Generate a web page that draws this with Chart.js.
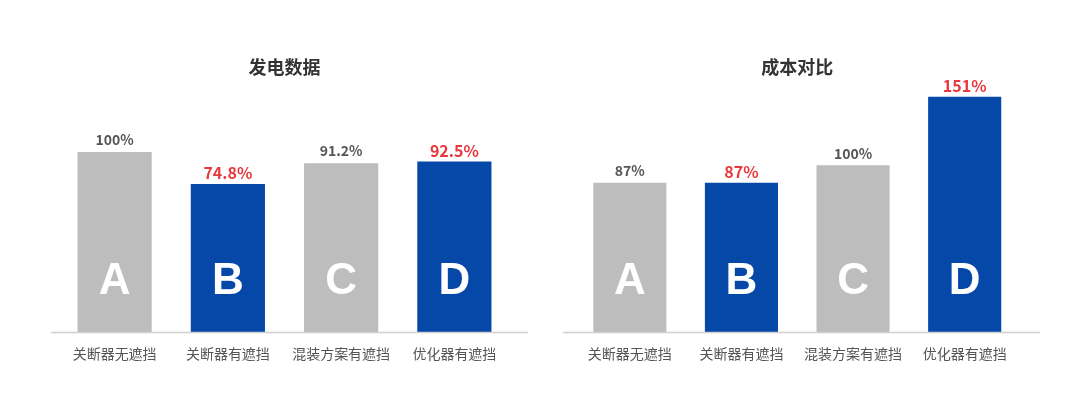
<!DOCTYPE html>
<html>
<head>
<meta charset="utf-8">
<script src="https://cdn.jsdelivr.net/npm/chart.js@4.4.1/dist/chart.umd.min.js"></script>
<style>
  html, body { margin: 0; padding: 0; background: #ffffff; }
  #wrap { position: relative; width: 1080px; height: 420px; }
  .box { position: absolute; top: 0; width: 540px; height: 420px; }
  #boxL { left: 0; }
  #boxR { left: 540px; }
</style>
</head>
<body>
<div id="wrap">
  <div class="box" id="boxL"><canvas id="cL" width="540" height="420"></canvas></div>
  <div class="box" id="boxR"><canvas id="cR" width="540" height="420"></canvas></div>
</div>
<script>
// ---- data ----
const categories = ['关断器无遮挡', '关断器有遮挡', '混装方案有遮挡', '优化器有遮挡'];
const barLetters = ['A', 'B', 'C', 'D'];
const powerTitle = '发电数据';
const powerValues = [100, 74.8, 91.2, 92.5];
const powerLabels = ['100%', '74.8%', '91.2%', '92.5%'];
const costTitle = '成本对比';
const costValues = [87, 87, 100, 151];
const costLabels = ['87%', '87%', '100%', '151%'];
const highlighted = [false, true, false, true];

// ---- styles ----
const GRAY = '#bdbdbd';
const BLUE = '#0648a8';
const RED = '#e8383d';
const TEXT = '#555555';
const CJK = '"Noto Sans CJK SC", "Noto Sans", sans-serif';

const decorPlugin = {
  id: 'decor',
  afterDatasetsDraw(chart, args, opts) {
    const ctx = chart.ctx;
    const meta = chart.getDatasetMeta(0);
    const area = chart.chartArea;
    ctx.save();
    // axis line
    ctx.strokeStyle = '#d0d0d0';
    ctx.lineWidth = 1.5;
    ctx.beginPath();
    ctx.moveTo(area.left - opts.extLeft, area.bottom + 0.5);
    ctx.lineTo(area.right + opts.extRight, area.bottom + 0.5);
    ctx.stroke();
    meta.data.forEach((bar, i) => {
      // value label
      const hi = highlighted[i];
      ctx.fillStyle = hi ? RED : TEXT;
      ctx.font = 'bold ' + (hi ? 16 : 14) + 'px ' + CJK;
      ctx.textAlign = 'center';
      ctx.textBaseline = 'middle';
      ctx.fillText(opts.labels[i], bar.x, bar.y - (hi ? 11 : 12));
      // letter in bar
      ctx.fillStyle = '#ffffff';
      ctx.font = 'bold 44px "Liberation Sans", Arial, sans-serif';
      ctx.fillText(barLetters[i], bar.x, bar.base - 50);
    });
    ctx.restore();
  }
};

function makeChart(id, title, values, labels, yMin, yMax, padL, padR, extL, extR) {
  return new Chart(document.getElementById(id), {
    type: 'bar',
    data: {
      labels: categories,
      datasets: [{
        data: values,
        base: yMin,
        backgroundColor: highlighted.map(h => h ? BLUE : GRAY),
        borderWidth: 0,
        barPercentage: 0.655,
        categoryPercentage: 1.0
      }]
    },
    options: {
      responsive: false,
      animation: false,
      devicePixelRatio: 1,
      layout: { padding: { left: padL, right: padR, top: 0, bottom: 45.2 } },
      plugins: {
        legend: { display: false },
        tooltip: { enabled: false },
        title: {
          display: true,
          text: title,
          fullSize: false,
          color: '#333333',
          font: { family: CJK, size: 18, weight: 'bold', lineHeight: 1.2 },
          padding: { top: 56, bottom: 11 }
        },
        decor: { labels: labels, extLeft: extL, extRight: extR }
      },
      scales: {
        x: {
          grid: { display: false, drawTicks: false },
          border: { display: false },
          ticks: {
            color: TEXT,
            padding: 13,
            autoSkip: false,
            maxRotation: 0,
            font: { family: CJK, size: 14, lineHeight: 1.2 }
          }
        },
        y: { display: false, min: yMin, max: yMax }
      }
    },
    plugins: [decorPlugin]
  });
}

makeChart('cL', powerTitle, powerValues, powerLabels, -42, 150, 58, 29, 7, 17);
makeChart('cR', costTitle, costValues, costLabels, -24, 157, 34, 59.5, 11, 19.5);
</script>
</body>
</html>
